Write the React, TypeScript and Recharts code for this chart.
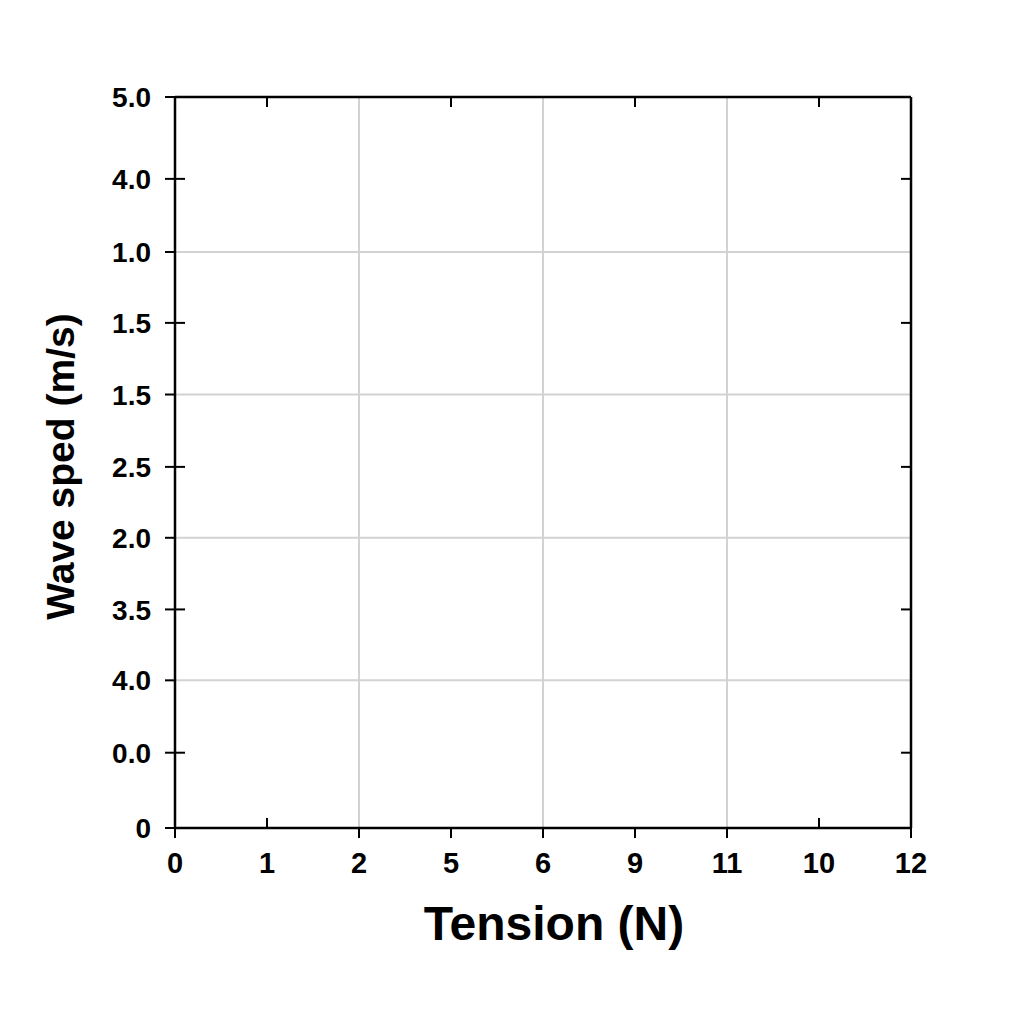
import { ScatterChart, Scatter, XAxis, YAxis, ReferenceLine } from 'recharts';

// tick labels exactly as printed on the reference (left to right / bottom to top)
const xTickLabels = ['0', '1', '2', '5', '6', '9', '11', '10', '12'];
const yTickLabels = ['0', '0.0', '4.0', '3.5', '2.0', '2.5', '1.5', '1.5', '1.0', '4.0', '5.0'];
// where each y label sits on a 0-100 scale (spacing)
const yTickValues = [0, 10.3, 20.2, 29.9, 39.7, 49.4, 59.3, 69.1, 78.8, 88.8, 100];
const xGridIndices = [2, 4, 6];
const yGridIndices = [2, 4, 6, 8];

const xMax = xTickLabels.length - 1;
const yMax = yTickValues[yTickValues.length - 1];
// the chart is empty: only the two corners of the frame, drawn invisibly, so the scales exist
const frameCorners = [
  { x: 0, y: 0 },
  { x: xMax, y: yMax },
];

const FONT = '"Liberation Sans", Arial, sans-serif';
const W = 1000;
const H = 1000;
const MARGIN = { top: 89, right: 97, bottom: 0, left: 0 };
const Y_AXIS_W = 167;
const X_AXIS_H = 180;
const PLOT_W = W - MARGIN.right - MARGIN.left - Y_AXIS_W;
const PLOT_H = H - MARGIN.top - MARGIN.bottom - X_AXIS_H;
const TICK = 10;
const X_MARGIN = 14;
const Y_MARGIN = 14;
const tickStroke = { stroke: '#000', strokeWidth: 2 };

const XTick = (props: any) => {
  const { x, y, payload } = props;
  const i = payload.value as number;
  const axisY = y - TICK - X_MARGIN;
  const inward = i === 1 || i === 7;
  return (
    <g>
      <line x1={x} x2={x} y1={axisY} y2={inward ? axisY - TICK : axisY + TICK} {...tickStroke} />
      {i % 2 === 1 && (
        <line x1={x} x2={x} y1={axisY - PLOT_H} y2={axisY - PLOT_H + TICK} {...tickStroke} />
      )}
      <text
        x={x}
        y={y}
        dy="0.71em"
        textAnchor="middle"
        fontFamily={FONT}
        fontWeight="bold"
        fontSize={29}
        fill="#000"
      >
        {xTickLabels[i]}
      </text>
    </g>
  );
};

const YTick = (props: any) => {
  const { x, y, payload } = props;
  const i = yTickValues.indexOf(payload.value);
  const axisX = x + TICK + Y_MARGIN;
  const odd = i % 2 === 1;
  return (
    <g>
      <line x1={axisX - TICK} x2={odd ? axisX + TICK : axisX} y1={y} y2={y} {...tickStroke} />
      {odd && <line x1={axisX + PLOT_W - TICK} x2={axisX + PLOT_W} y1={y} y2={y} {...tickStroke} />}
      <text
        x={x}
        y={y}
        dy="0.36em"
        textAnchor="end"
        fontFamily={FONT}
        fontWeight="bold"
        fontSize={28}
        fill="#000"
      >
        {yTickLabels[i]}
      </text>
    </g>
  );
};

export default function App() {
  return (
    <div style={{ width: W, height: H, background: '#fff' }}>
      <ScatterChart width={W} height={H} margin={MARGIN}>
        {xGridIndices.map(i => (
          <ReferenceLine key={`vx${i}`} x={i} stroke="#d2d2d2" strokeWidth={2} />
        ))}
        {yGridIndices.map(i => (
          <ReferenceLine key={`hy${i}`} y={yTickValues[i]} stroke="#d2d2d2" strokeWidth={2} />
        ))}
        <ReferenceLine y={yMax} stroke="#000" strokeWidth={2.5} />
        <ReferenceLine x={xMax} stroke="#000" strokeWidth={2.5} />
        <XAxis
          type="number"
          dataKey="x"
          domain={[0, xMax]}
          ticks={xTickLabels.map((_, i) => i)}
          interval={0}
          height={X_AXIS_H}
          tickSize={TICK}
          tickMargin={X_MARGIN}
          tickLine={false}
          axisLine={{ stroke: '#000', strokeWidth: 2.5 }}
          tick={(p: any) => <XTick {...p} />}
          label={{
            value: 'Tension (N)',
            position: 'insideBottom',
            offset: 68,
            dx: 11,
            fill: '#000',
            style: { fontFamily: FONT, fontWeight: 'bold', fontSize: 48 },
          }}
        />
        <YAxis
          type="number"
          dataKey="y"
          domain={[0, yMax]}
          ticks={yTickValues}
          interval={0}
          width={Y_AXIS_W}
          tickSize={TICK}
          tickMargin={Y_MARGIN}
          tickLine={false}
          axisLine={{ stroke: '#000', strokeWidth: 2.5 }}
          tick={(p: any) => <YTick {...p} />}
          label={{
            value: 'Wave sped (m/s)',
            angle: -90,
            position: 'insideLeft',
            offset: 52,
            dy: 4,
            fill: '#000',
            style: { fontFamily: FONT, fontWeight: 'bold', fontSize: 39, textAnchor: 'middle' },
          }}
        />
        <Scatter data={frameCorners} shape={() => null} isAnimationActive={false} />
      </ScatterChart>
    </div>
  );
}
